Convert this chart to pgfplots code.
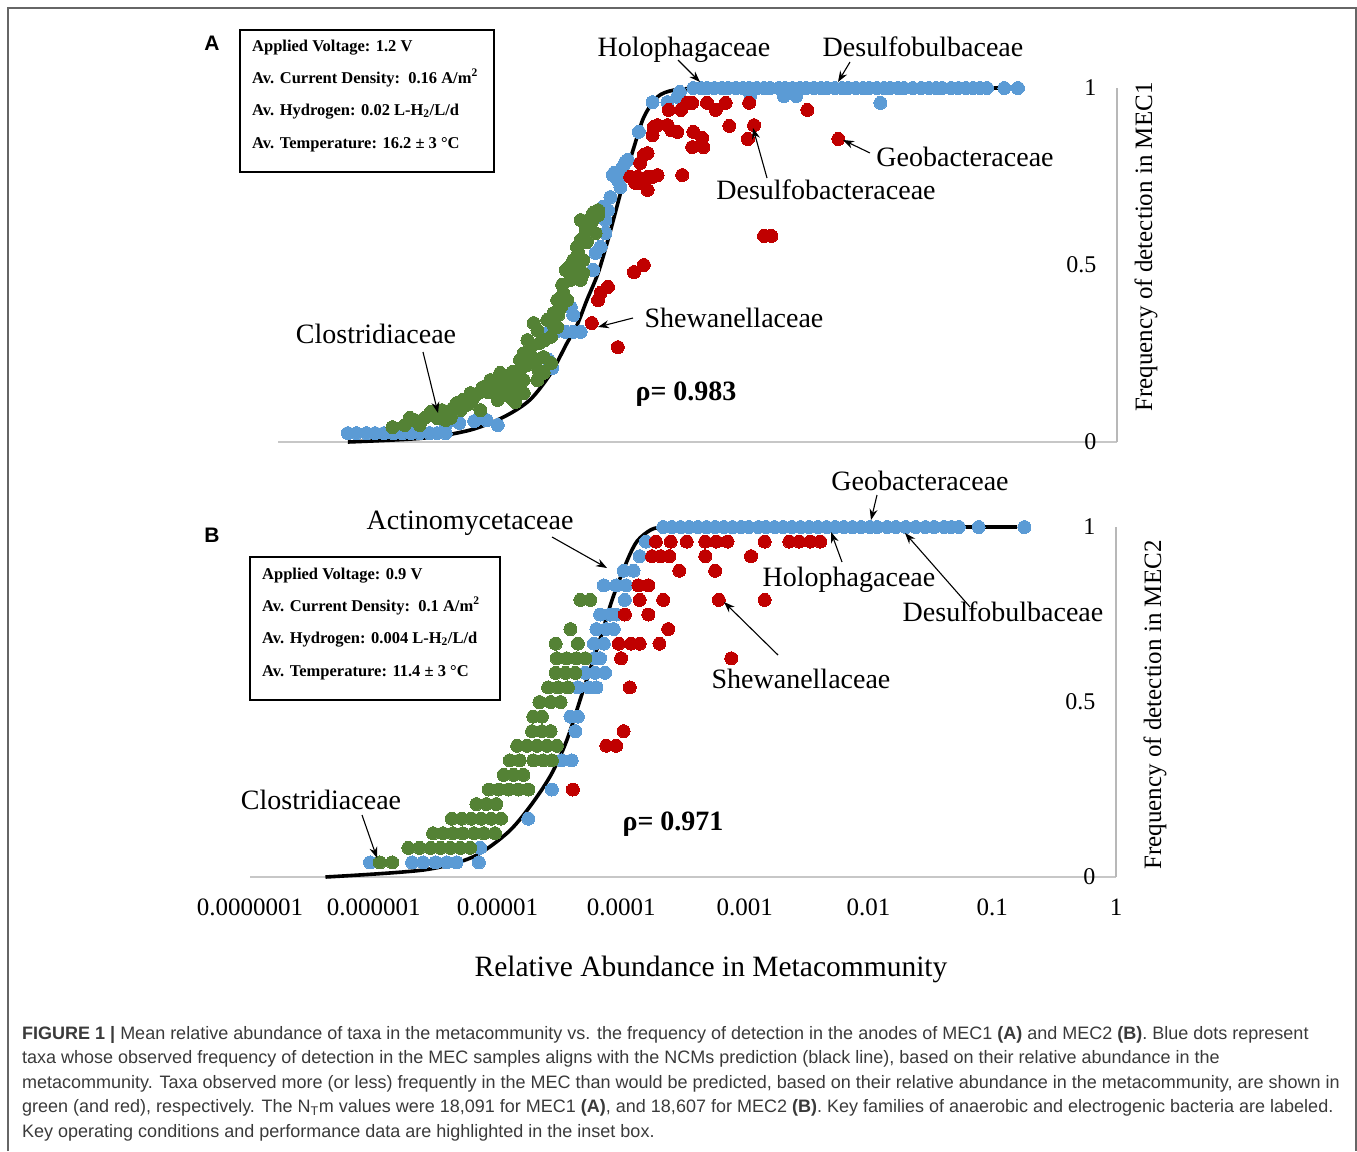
\documentclass[border=0pt]{standalone}
\usepackage{fontspec}
\setmainfont{Liberation Serif}
\newfontfamily\capfont{Liberation Sans}
\usepackage{pgfplots}
\pgfplotsset{compat=1.18}
\usetikzlibrary{arrows.meta}
\definecolor{cblue}{HTML}{5B9BD5}
\definecolor{cgreen}{HTML}{548235}
\definecolor{cred}{HTML}{C00000}
\definecolor{capgray}{HTML}{3A3A3A}
\pgfplotsset{
  mec/.style={
    scale only axis, clip=false, xmax=0, ymin=0, ymax=1,
    axis x line*=bottom, axis y line*=right,
    x axis line style={draw=black!22, line width=1.6pt, -},
    y axis line style={draw=black!28, line width=1.6pt, -},
    major tick length=0pt, tick style={draw=none},
    ytick={0,0.5,1}, yticklabels={0,0.5,1},
    yticklabel style={anchor=east, xshift=-17pt, font=\fontsize{24}{28}\selectfont},
  },
  dots/.style={only marks, color=#1, mark=*, mark size=6.5pt, mark options={draw=#1, fill=#1, line width=0pt}},
  ncm/.style={black, line width=3.6pt, smooth, tension=0.5, no marks},
}
\tikzset{
  lab/.style={font=\fontsize{28}{32}\selectfont, inner sep=0pt, anchor=base},
  rho/.style={font=\fontsize{28}{32}\selectfont\bfseries, inner sep=0pt, anchor=base},
  box/.style={font=\fontsize{16.5}{20}\selectfont\bfseries, inner sep=0pt, anchor=base west},
  arr/.style={-{Stealth[length=11pt,width=8pt]}, line width=1.1pt},
  captxt/.style={font=\capfont\fontsize{18}{22}\selectfont, text=capgray, inner sep=0pt, anchor=base west},
  panel/.style={font=\capfont\bfseries\fontsize{21}{24}\selectfont, inner sep=0pt},
}
\begin{document}
\begin{tikzpicture}[x=1pt,y=-1pt]
\path[use as bounding box] (0,0) rectangle (1357,1151);
\draw[draw=black!60, line width=2pt] (8,1151) -- (8,8) -- (1356,8) -- (1356,1151);

% ---------------- Panel A ----------------
\begin{axis}[mec, at={(278pt,-442pt)}, anchor=south west, width=839pt, height=354pt,
  xmin=-6.774, xtick=\empty]
\addplot[ncm] coordinates {(-6.21,0) (-5.60,0.011) (-5.22,0.034) (-4.95,0.071) (-4.74,0.119)
 (-4.57,0.195) (-4.44,0.280) (-4.36,0.330) (-4.28,0.401) (-4.19,0.477) (-4.11,0.571)
 (-4.03,0.675) (-3.98,0.740) (-3.90,0.833) (-3.82,0.918) (-3.71,0.975) (-3.58,0.994)
 (-3.36,1.0) (-3.15,1.0) (-2.9,1.0) (-0.80,1.0)};
\addplot[dots=cblue] coordinates {
 (-6.21,0.025) (-6.14,0.025) (-6.06,0.025) (-5.99,0.025) (-5.92,0.025) (-5.84,0.025)
 (-5.77,0.025) (-5.70,0.025) (-5.63,0.025) (-5.55,0.025) (-5.49,0.025) (-5.42,0.025)
 (-5.42,0.048) (-5.14,0.068)
 (-5.31,0.054) (-5.19,0.059) (-5.09,0.062) (-5.00,0.048) (-4.59,0.232) (-4.56,0.209)
 (-4.59,0.311) (-4.53,0.311) (-4.45,0.311) (-4.39,0.311) (-4.33,0.311) (-4.41,0.381)
 (-4.39,0.359) (-4.23,0.486) (-4.21,0.534) (-4.17,0.551) (-4.13,0.590) (-4.13,0.627)
 (-4.11,0.655) (-4.15,0.664) (-4.09,0.692) (-4.07,0.754) (-4.03,0.740) (-4.01,0.720)
 (-3.99,0.760) (-3.99,0.777) (-3.97,0.791) (-3.95,0.797) (-4.06,0.760) (-3.86,0.876)
 (-3.75,0.960) (-3.63,0.960) (-3.55,0.975) (-3.53,0.989) (-2.96,0.980) (-2.69,0.977)
 (-2.59,0.977) (-1.91,0.958)
 (-3.42,1) (-3.36,1) (-3.31,1) (-3.25,1) (-3.19,1) (-3.14,1) (-3.08,1) (-3.02,1)
 (-2.97,1) (-2.91,1) (-2.85,1) (-2.80,1) (-2.73,1) (-2.68,1) (-2.62,1) (-2.56,1)
 (-2.51,1) (-2.45,1) (-2.39,1) (-2.34,1) (-2.28,1) (-2.22,1) (-2.17,1) (-2.11,1)
 (-2.05,1) (-2.00,1) (-1.94,1) (-1.88,1) (-1.83,1) (-1.77,1) (-1.72,1) (-1.65,1)
 (-1.58,1) (-1.52,1) (-1.46,1) (-1.41,1) (-1.34,1) (-1.28,1) (-1.22,1) (-1.16,1)
 (-1.11,1) (-1.05,1) (-0.91,1) (-0.80,1)};
\addplot[dots=cgreen] coordinates {
 (-5.85,0.042) (-5.71,0.068) (-5.54,0.085) (-5.49,0.068) (-5.41,0.082) (-5.36,0.096)
 (-5.33,0.110) (-5.28,0.119) (-5.22,0.110) (-5.16,0.138) (-5.12,0.155) (-5.06,0.175)
 (-5.04,0.141) (-4.98,0.195) (-4.92,0.167) (-4.90,0.127) (-4.84,0.147) (-4.82,0.203)
 (-4.79,0.251) (-4.76,0.288) (-4.74,0.251) (-4.71,0.336) (-4.68,0.316) (-4.67,0.203)
 (-4.66,0.280) (-4.63,0.240) (-4.57,0.297) (-4.55,0.364) (-4.52,0.401) (-4.49,0.381)
 (-4.47,0.421) (-4.45,0.486) (-4.41,0.458) (-4.39,0.514) (-4.35,0.534) (-4.36,0.551)
 (-4.31,0.477) (-4.28,0.565) (-4.33,0.627) (-4.27,0.627) (-4.23,0.647) (-4.21,0.590)
 (-4.25,0.607) (-5.22,0.138) (-5.14,0.090) (-5.00,0.119) (-4.86,0.113) (-4.79,0.175)
 (-4.63,0.195) (-4.52,0.325) (-4.57,0.223) (-4.68,0.175) (-4.79,0.138) (-4.31,0.514)
 (-4.29,0.565) (-4.33,0.458) (-4.19,0.655) (-5.63,0.048) (-5.42,0.062)
 (-5.75,0.048) (-5.67,0.062) (-5.59,0.068) (-5.45,0.090) (-5.38,0.068) (-5.30,0.090)
 (-5.25,0.105) (-5.20,0.124) (-5.08,0.141) (-5.02,0.161) (-4.95,0.147) (-4.94,0.181)
 (-4.88,0.198) (-4.86,0.161) (-4.82,0.232) (-4.76,0.218) (-4.72,0.274) (-4.70,0.232)
 (-4.62,0.288) (-4.60,0.345) (-4.55,0.331) (-4.51,0.359) (-4.48,0.444) (-4.44,0.401)
 (-4.41,0.500) (-4.37,0.492) (-4.33,0.571) (-4.29,0.599) (-4.24,0.621) (-4.19,0.641)};
\addplot[dots=cred] coordinates {
 (-4.24,0.336) (-4.03,0.268) (-4.19,0.401) (-4.17,0.421) (-4.11,0.438) (-3.90,0.480)
 (-3.82,0.500) (-2.85,0.582) (-2.79,0.582) (-3.93,0.749) (-3.89,0.732) (-3.85,0.732)
 (-3.79,0.712) (-3.75,0.749) (-3.71,0.754) (-3.79,0.749) (-3.51,0.754) (-3.87,0.749)
 (-3.85,0.788) (-3.82,0.811) (-3.79,0.816) (-3.75,0.867) (-3.74,0.890) (-3.71,0.895)
 (-3.63,0.895) (-3.60,0.881) (-3.55,0.876) (-3.62,0.938) (-3.52,0.938) (-3.47,0.958)
 (-3.43,0.958) (-3.42,0.876) (-3.35,0.859) (-3.43,0.833) (-3.34,0.833) (-3.31,0.958)
 (-3.24,0.938) (-3.16,0.958) (-3.13,0.893) (-2.97,0.958) (-2.93,0.895) (-2.98,0.856)
 (-2.50,0.938) (-2.25,0.856)};
\end{axis}

% ---------------- Panel B ----------------
\begin{axis}[mec, at={(250pt,-877pt)}, anchor=south west, width=866pt, height=350pt,
  xmin=-7, xtick={-7,-6,-5,-4,-3,-2,-1,0},
  xticklabels={0.0000001,0.000001,0.00001,0.0001,0.001,0.01,0.1,1},
  xticklabel style={font=\fontsize{25}{28}\selectfont, yshift=-18pt}]
\addplot[ncm] coordinates {(-6.39,0) (-5.60,0.02) (-5.20,0.057) (-4.92,0.126) (-4.74,0.200)
 (-4.57,0.290) (-4.44,0.390) (-4.31,0.530) (-4.17,0.680) (-4.07,0.795) (-3.95,0.905)
 (-3.87,0.960) (-3.76,0.992) (-3.66,1.0) (-3.50,1.0) (-3.30,1.0) (-0.80,1.0)};
\addplot[dots=cblue] coordinates {
 (-6.03,0.0417) (-5.69,0.0417) (-5.60,0.0417) (-5.50,0.0417) (-5.41,0.0417) (-5.33,0.0417)
 (-5.15,0.0417) (-5.14,0.0833) (-4.75,0.1667) (-4.56,0.25) (-4.48,0.3333) (-4.40,0.3333)
 (-4.37,0.4167) (-4.41,0.4583) (-4.35,0.4583) (-4.35,0.5417) (-4.26,0.5417) (-4.20,0.5417)
 (-4.29,0.5833) (-4.21,0.5833) (-4.13,0.5833) (-4.22,0.625) (-4.17,0.625) (-4.22,0.6667)
 (-4.14,0.6667) (-4.20,0.7083) (-4.12,0.7083) (-4.06,0.7083) (-4.17,0.75) (-4.09,0.75)
 (-4.04,0.75) (-3.97,0.7917) (-4.14,0.8333) (-4.04,0.8333) (-3.96,0.8333) (-3.98,0.875)
 (-3.90,0.875) (-3.85,0.9167) (-3.80,0.9583)
 (-3.66,1) (-3.59,1) (-3.52,1) (-3.45,1) (-3.38,1) (-3.31,1) (-3.24,1) (-3.17,1)
 (-3.10,1) (-3.03,1) (-2.97,1) (-2.89,1) (-2.83,1) (-2.76,1) (-2.69,1) (-2.62,1)
 (-2.55,1) (-2.48,1) (-2.41,1) (-2.34,1) (-2.27,1) (-2.20,1) (-2.13,1) (-2.06,1)
 (-1.99,1) (-1.93,1) (-1.85,1) (-1.78,1) (-1.70,1) (-1.62,1) (-1.54,1) (-1.47,1)
 (-1.39,1) (-1.33,1) (-1.27,1) (-1.11,1) (-0.74,1)};
\addplot[dots=cgreen] coordinates {
 (-5.95,0.0417) (-5.85,0.0417)
 (-5.72,0.0833) (-5.63,0.0833) (-5.54,0.0833) (-5.46,0.0833) (-5.38,0.0833) (-5.30,0.0833) (-5.22,0.0833)
 (-5.52,0.125) (-5.44,0.125) (-5.36,0.125) (-5.28,0.125) (-5.19,0.125) (-5.11,0.125) (-5.02,0.125)
 (-5.37,0.1667) (-5.29,0.1667) (-5.21,0.1667) (-5.13,0.1667) (-5.05,0.1667) (-4.97,0.1667)
 (-5.17,0.2083) (-5.09,0.2083) (-5.01,0.2083)
 (-5.07,0.25) (-4.99,0.25) (-4.91,0.25) (-4.83,0.25) (-4.75,0.25)
 (-4.95,0.2917) (-4.87,0.2917) (-4.79,0.2917)
 (-4.90,0.3333) (-4.82,0.3333) (-4.71,0.3333) (-4.63,0.3333) (-4.56,0.3333)
 (-4.84,0.375) (-4.76,0.375) (-4.68,0.375) (-4.60,0.375) (-4.52,0.375)
 (-4.72,0.4167) (-4.64,0.4167) (-4.57,0.4167)
 (-4.71,0.4583) (-4.64,0.4583)
 (-4.66,0.5) (-4.57,0.5) (-4.49,0.5)
 (-4.59,0.5417) (-4.51,0.5417) (-4.43,0.5417)
 (-4.53,0.5833) (-4.45,0.5833) (-4.37,0.5833)
 (-4.52,0.625) (-4.44,0.625) (-4.36,0.625) (-4.29,0.625)
 (-4.53,0.6667) (-4.35,0.6667)
 (-4.41,0.7083)
 (-4.33,0.7917) (-4.25,0.7917)};
\addplot[dots=cred] coordinates {
 (-4.39,0.25) (-4.12,0.375) (-4.04,0.375) (-3.98,0.4167) (-3.93,0.5417)
 (-4.00,0.625) (-3.11,0.625)
 (-4.02,0.6667) (-3.92,0.6667) (-3.85,0.6667) (-3.69,0.6667)
 (-3.62,0.7083) (-3.97,0.75) (-3.78,0.75)
 (-3.85,0.7917) (-3.66,0.7917) (-3.21,0.7917) (-2.84,0.7917)
 (-3.86,0.8333) (-3.78,0.8333) (-3.53,0.875) (-3.24,0.875)
 (-3.75,0.9167) (-3.68,0.9167) (-3.61,0.9167) (-3.32,0.9167) (-2.95,0.9167)
 (-3.72,0.9583) (-3.60,0.9583) (-3.47,0.9583) (-3.32,0.9583) (-3.23,0.9583) (-3.14,0.9583)
 (-2.84,0.9583) (-2.64,0.9583) (-2.56,0.9583) (-2.47,0.9583) (-2.39,0.9583)};
\end{axis}

% ---------------- Annotations A ----------------
\node[panel] at (212,43) {A};
\draw[line width=1.3pt] (240,30) rectangle (494,172);
\node[box] at (252,51) {Applied Voltage: 1.2 V};
\node[box] at (252,83) {Av. Current Density:\ \ 0.16 A/m\textsuperscript{2}};
\node[box] at (252,115) {Av. Hydrogen: 0.02 L-H\textsubscript{2}/L/d};
\node[box] at (252,148) {Av. Temperature: 16.2 ± 3 °C};
\node[lab] at (684,56) {Holophagaceae};
\node[lab] at (923,56) {Desulfobulbaceae};
\node[lab] at (965,166) {Geobacteraceae};
\node[lab] at (826,199) {Desulfobacteraceae};
\node[lab] at (734,327) {Shewanellaceae};
\node[lab] at (376,343) {Clostridiaceae};
\node[rho] at (686,400) {ρ= 0.983};
\draw[arr] (678,60) -- (700,82);
\draw[arr] (850,62) -- (838,82);
\draw[arr] (870,153) -- (843,140);
\draw[arr] (767,178) -- (753,128);
\draw[arr] (633,318) -- (598,327);
\draw[arr] (423,352) -- (438,413);
\node[rotate=90, font=\fontsize{25}{28}\selectfont] at (1146,247) {Frequency of detection in MEC1};

% ---------------- Annotations B ----------------
\node[panel] at (212,535) {B};
\draw[line width=1.3pt] (250,557) rectangle (500,700);
\node[box] at (262,579) {Applied Voltage: 0.9 V};
\node[box] at (262,611) {Av. Current Density:\ \ 0.1 A/m\textsuperscript{2}};
\node[box] at (262,643) {Av. Hydrogen: 0.004 L-H\textsubscript{2}/L/d};
\node[box] at (262,676) {Av. Temperature: 11.4 ± 3 °C};
\node[lab] at (920,490) {Geobacteraceae};
\node[lab] at (470,529) {Actinomycetaceae};
\node[lab] at (849,586) {Holophagaceae};
\node[lab] at (1003,621) {Desulfobulbaceae};
\node[lab] at (801,688) {Shewanellaceae};
\node[lab] at (321,809) {Clostridiaceae};
\node[rho] at (673,830) {ρ= 0.971};
\draw[arr] (877,495) -- (871,520);
\draw[arr] (552,537) -- (607,568);
\draw[arr] (842,562) -- (831,532);
\draw[arr] (970,607) -- (905,533);
\draw[arr] (778,655) -- (724,602);
\draw[arr] (362,815) -- (377,858);
\node[rotate=90, font=\fontsize{25}{28}\selectfont] at (1155,705) {Frequency of detection in MEC2};
\node[font=\fontsize{29.5}{32}\selectfont, inner sep=0pt, anchor=base] at (711,976) {Relative Abundance in Metacommunity};

% ---------------- Caption ----------------
\node[captxt] at (22,1039) {\textbf{FIGURE 1 |} Mean relative abundance of taxa in the metacommunity vs. the frequency of detection in the anodes of MEC1 \textbf{(A)} and MEC2 \textbf{(B)}. Blue dots represent};
\node[captxt] at (22,1063.5) {taxa whose observed frequency of detection in the MEC samples aligns with the NCMs prediction (black line), based on their relative abundance in the};
\node[captxt] at (22,1088) {metacommunity. Taxa observed more (or less) frequently in the MEC than would be predicted, based on their relative abundance in the metacommunity, are shown in};
\node[captxt] at (22,1112.5) {green (and red), respectively. The N\textsubscript{T}m values were 18,091 for MEC1 \textbf{(A)}, and 18,607 for MEC2 \textbf{(B)}. Key families of anaerobic and electrogenic bacteria are labeled.};
\node[captxt] at (22,1137) {Key operating conditions and performance data are highlighted in the inset box.};
\end{tikzpicture}
\end{document}
